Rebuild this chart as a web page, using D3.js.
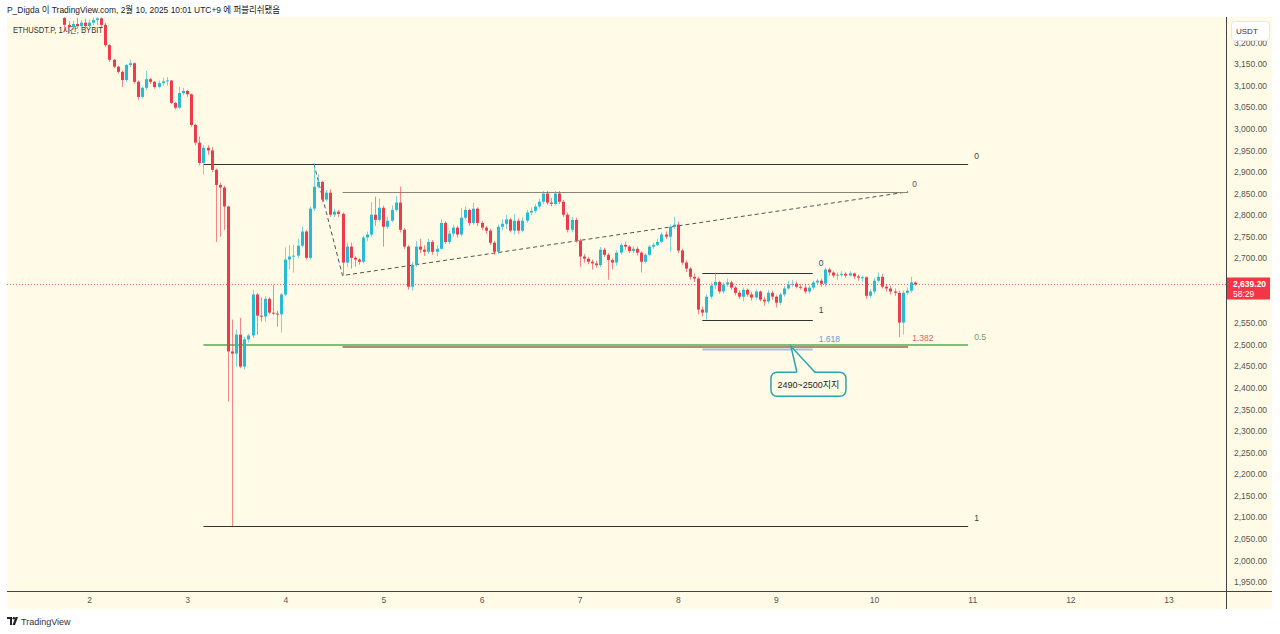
<!DOCTYPE html>
<html><head><meta charset="utf-8">
<script src="https://cdn.jsdelivr.net/npm/d3@7"></script>
<style>
html,body{margin:0;padding:0;background:#fff;}
svg{display:block;font-family:"Liberation Sans","Noto Sans CJK KR",sans-serif;}
</style></head><body>
<svg id="c" width="1280" height="634"></svg>
<script>
// ---------------- DATA ----------------
const symbolLabel = "ETHUSDT.P, 1시간, BYBIT";
const headerText = "P_Digda 이 TradingView.com, 2월 10, 2025 10:01 UTC+9 에 퍼블리쉬됐음";
const startTime = Date.UTC(2025, 1, 1, 18); // first hourly bar (UTC+9 wall clock)
const firstOpen = 3257;
const closes = [
3241,3236,3243,3238,3246,3238,3246,3252,3256,3241,
3194,3160,3144,3132,3113,3148,3152,3109,3074,3095,
3115,3109,3097,3106,3110,3112,3060,3049,3083,3088,
3080,3009,2968,2921,2956,2950,2905,2870,2864,2820,
2484,2479,2523,2449,2512,2521,2616,2567,2565,2606,
2574,2572,2570,2616,2697,2704,2706,2729,2762,2701,
2815,2866,2877,2836,2852,2801,2808,2803,2690,2727,
2701,2697,2692,2748,2755,2801,2789,2817,2773,2787,
2812,2829,2766,2727,2634,2685,2727,2720,2715,2738,
2715,2722,2782,2738,2757,2771,2755,2794,2812,2782,
2815,2782,2771,2764,2736,2715,2773,2780,2790,2764,
2787,2764,2787,2806,2810,2820,2831,2850,2829,2826,
2850,2831,2801,2766,2789,2741,2704,2699,2692,2688,
2684,2720,2708,2696,2690,2713,2731,2727,2717,2722,
2713,2692,2708,2727,2731,2738,2755,2750,2773,2778,
2718,2690,2676,2657,2653,2581,2574,2611,2637,2645,
2623,2639,2644,2632,2620,2611,2627,2616,2609,2623,
2604,2600,2620,2611,2597,2616,2630,2639,2641,2634,
2632,2623,2632,2644,2648,2641,2674,2667,2660,2662,
2664,2660,2665,2658,2655,2656,2613,2623,2648,2657,
2634,2630,2623,2620,2551,2620,2625,2644,2639.2];
const highs = [
3262,3250,3250,3257,3252,3255,3253,3258,3262,3258,
3245,3196,3162,3146,3135,3150,3160,3154,3112,3098,
3134,3118,3111,3112,3118,3120,3113,3062,3097,3095,
3090,3082,3012,2982,2962,2962,2958,2908,2875,2868,
2822,2558,2535,2562,2518,2525,2627,2620,2609,2612,
2610,2639,2578,2620,2725,2731,2731,2745,2773,2766,
2820,2919,2895,2880,2858,2860,2815,2812,2806,2736,
2736,2705,2700,2752,2762,2830,2843,2838,2822,2796,
2822,2845,2866,2770,2731,2692,2740,2745,2730,2745,
2742,2730,2790,2786,2764,2778,2775,2817,2820,2815,
2829,2818,2786,2775,2768,2740,2778,2790,2800,2794,
2803,2792,2795,2812,2818,2826,2838,2856,2856,2840,
2856,2856,2835,2806,2796,2794,2745,2710,2703,2697,
2694,2726,2724,2712,2700,2718,2736,2738,2730,2728,
2727,2716,2712,2731,2736,2745,2760,2762,2778,2796,
2785,2722,2695,2680,2665,2657,2588,2616,2644,2667,
2648,2644,2653,2648,2636,2625,2632,2630,2622,2628,
2625,2611,2627,2625,2614,2620,2636,2648,2650,2646,
2641,2641,2637,2648,2653,2653,2678,2678,2670,2667,
2670,2668,2670,2667,2662,2660,2658,2628,2655,2667,
2664,2640,2636,2630,2625,2625,2632,2657,2646];
const lows = [
3225,3222,3230,3232,3233,3230,3235,3240,3240,3236,
3190,3155,3140,3128,3097,3108,3143,3105,3067,3070,
3090,3104,3093,3094,3100,3100,3058,3045,3046,3078,
3074,3005,2962,2915,2894,2940,2900,2738,2750,2766,
2368,2079,2449,2445,2442,2505,2515,2523,2553,2553,
2570,2568,2542,2528,2612,2674,2667,2700,2725,2697,
2697,2810,2862,2830,2832,2796,2796,2796,2660,2680,
2676,2680,2685,2688,2740,2750,2775,2785,2727,2768,
2783,2808,2760,2722,2627,2625,2680,2712,2705,2710,
2708,2705,2720,2733,2733,2750,2748,2750,2790,2775,
2778,2775,2765,2757,2731,2708,2710,2765,2768,2760,
2755,2757,2760,2782,2800,2805,2815,2826,2824,2820,
2822,2826,2796,2760,2760,2736,2680,2690,2686,2674,
2678,2680,2703,2650,2674,2683,2708,2720,2712,2712,
2706,2667,2688,2704,2722,2728,2735,2745,2715,2768,
2712,2685,2668,2650,2645,2570,2565,2558,2606,2628,
2618,2618,2634,2627,2614,2606,2600,2611,2602,2604,
2600,2590,2595,2604,2586,2592,2611,2627,2634,2630,
2627,2618,2618,2627,2639,2634,2634,2660,2655,2650,
2657,2655,2658,2652,2648,2646,2606,2608,2618,2644,
2630,2623,2616,2613,2517,2523,2616,2620,2636];

const xTickDays = [2,3,4,5,6,7,8,9,10,11,12,13];
const yTicks = [1950,2000,2050,2100,2150,2200,2250,2300,2350,2400,2450,2500,2550,2600,2650,2700,2750,2800,2850,2900,2950,3000,3050,3100,3150,3200];
const lastPrice = 2639.20;
const countdown = "58:29";
const currency = "USDT";

// Fibonacci retracement (Feb 3 -> Feb 10)
const retrTimes = [Date.UTC(2025,1,3,4), Date.UTC(2025,1,10,23)];
const retrPrices = [2919, 2079];
const retrLevels = [0, 0.5, 1];
// Trend-based fib extension (A, B, C)
const extTimes = [Date.UTC(2025,1,4,7), Date.UTC(2025,1,4,14), Date.UTC(2025,1,10,8,20)];
const extPrices = [2919, 2660, 2854];
const extLevels = [0, 1.382];
// Range fib (Feb 8 - Feb 9)
const rangeTimes = [Date.UTC(2025,1,8,6), Date.UTC(2025,1,9,9)];
const rangePrices = [2667, 2558];
const rangeLevels = [0, 1, 1.618];
// Callout
const calloutTime = Date.UTC(2025,1,9,3,40);
const calloutPrice = 2496;
const calloutText = "2490~2500지지";

// ---------------- LAYOUT / STYLE ----------------
const svg = d3.select("#c");
const paneL = 7, paneR = 1226, paneT = 17, paneB = 591, outerR = 1272, outerB = 609;
const BG = "#fffbe6";
const UP = "#26bdd4", DOWN = "#f0394b";

const x = d3.scaleUtc()
  .domain([Date.UTC(2025,1,2), Date.UTC(2025,1,13)])
  .range([89, 1168.5]);
const y = d3.scaleLinear().domain([2000, 3150]).range([560.3, 64.1]);
const cy = v => Math.round(y(v)) + 0.5;

// background
svg.append("rect").attr("x", paneL).attr("y", paneT).attr("width", outerR - paneL).attr("height", outerB - paneT).attr("fill", BG);

// header
svg.append("text").attr("x", 7).attr("y", 13).attr("font-size", 9.5).attr("fill", "#222")
  .attr("textLength", 273).attr("lengthAdjust", "spacingAndGlyphs").text(headerText);

// clip
svg.append("clipPath").attr("id", "pane").append("rect")
  .attr("x", paneL).attr("y", paneT).attr("width", paneR - paneL).attr("height", paneB - paneT);

const pane = svg.append("g").attr("clip-path", "url(#pane)");

// symbol legend (drawn below candles)
pane.append("text").attr("x", 13).attr("y", 33).attr("font-size", 8.5).attr("fill", "#333")
  .attr("textLength", 90).attr("lengthAdjust", "spacingAndGlyphs").text(symbolLabel);

// current price dotted line
pane.append("line").attr("x1", paneL).attr("x2", paneR).attr("y1", cy(lastPrice)).attr("y2", cy(lastPrice))
  .attr("stroke", DOWN).attr("stroke-width", 1).attr("stroke-dasharray", "1,2").attr("opacity", 0.75);

// ---------- annotations ----------
const ann = pane.append("g");
function hline(t1, t2, yPix, color, w) {
  ann.append("line")
    .attr("x1", x(t1)).attr("x2", x(t2))
    .attr("y1", yPix).attr("y2", yPix)
    .attr("stroke", color).attr("stroke-width", w);
}
function label(xp, yp, txt, color) {
  ann.append("text").attr("x", xp).attr("y", yp).attr("font-size", 8.5).attr("fill", color).text(txt);
}

// trend-based extension
const A = extPrices[0], B = extPrices[1], C = extPrices[2];
ann.append("path")
  .attr("d", d3.line()([[x(extTimes[0]), y(A)], [x(extTimes[1]), y(B)], [x(extTimes[2]), y(C)]]))
  .attr("fill", "none").attr("stroke", "#555").attr("stroke-width", 1).attr("stroke-dasharray", "4,3");
const extColor = {0: "#8a857a", 1.382: "#b88a78"};
const extWidth = {0: 1, 1.382: 2};
const extLabelColor = {0: "#555", 1.382: "#e2606c"};
extLevels.forEach(l => {
  const p = C - l * (A - B);
  const yy = l === 0 ? cy(p) : Math.round(y(p)) + 1;
  hline(extTimes[1], extTimes[2], yy, extColor[l], extWidth[l]);
  label(x(extTimes[2]) + 4, y(p) - 5, String(l), extLabelColor[l]);
});

// fib retracement
const retrColor = {"0": "#333333", "0.5": "#7cc07a", "1": "#333333"};
const retrWidth = {"0": 1, "0.5": 2, "1": 1};
const retrLabelColor = {"0": "#444444", "0.5": "#6f9e68", "1": "#444444"};
retrLevels.forEach(l => {
  const p = retrPrices[0] + l * (retrPrices[1] - retrPrices[0]);
  const w = retrWidth[String(l)];
  hline(retrTimes[0], retrTimes[1], w > 1 ? Math.round(y(p)) : cy(p), retrColor[String(l)], w);
  label(x(retrTimes[1]) + 6, y(p) - 5, String(l), retrLabelColor[String(l)]);
});

// range fib
const rangeColor = {0: "#333", 1: "#333", 1.618: "#a9c0dc"};
const rangeWidth = {0: 1, 1: 1, 1.618: 2};
const rangeLabelColor = {0: "#444", 1: "#444", 1.618: "#5d9ccc"};
rangeLevels.forEach(l => {
  const p = rangePrices[0] + l * (rangePrices[1] - rangePrices[0]);
  const yy = rangeWidth[l] > 1 ? Math.round(y(p)) + 0.5 : cy(p);
  hline(rangeTimes[0], rangeTimes[1], yy, rangeColor[l], rangeWidth[l]);
  label(x(rangeTimes[1]) + 6, y(p) - 7, String(l), rangeLabelColor[l]);
});

// ---------- candles ----------
const candles = closes.map((c, i) => ({
  t: startTime + i * 3600e3,
  o: i === 0 ? firstOpen : closes[i - 1],
  h: highs[i], l: lows[i], c: c
}));
const cg = pane.append("g");
candles.forEach(d => {
  const xc = Math.round(x(d.t));
  const col = d.c >= d.o ? UP : DOWN;
  cg.append("line").attr("x1", xc + 0.5).attr("x2", xc + 0.5)
    .attr("y1", y(d.h)).attr("y2", y(d.l)).attr("stroke", col).attr("stroke-width", 1).attr("opacity", 0.6);
  const top = y(Math.max(d.o, d.c)), bot = y(Math.min(d.o, d.c));
  cg.append("rect").attr("x", xc - 1).attr("width", 3)
    .attr("y", top).attr("height", Math.max(1, bot - top)).attr("fill", col);
});

// ---------- callout ----------
const tx = x(calloutTime), ty = y(calloutPrice);
const bx = tx - 20, bw = 75, by = ty + 26, bh = 24;
const CO = "#2aa4b6";
svg.append("rect").attr("x", bx).attr("y", by).attr("width", bw).attr("height", bh).attr("rx", 6)
  .attr("fill", BG).attr("stroke", CO).attr("stroke-width", 1.5);
svg.append("path").attr("d", `M${tx + 6},${by + 1} L${tx},${ty} L${tx + 24},${by + 1} Z`).attr("fill", BG);
svg.append("path").attr("d", `M${tx + 6},${by} L${tx},${ty} L${tx + 24},${by}`)
  .attr("fill", "none").attr("stroke", CO).attr("stroke-width", 1.5);
svg.append("text").attr("x", bx + bw / 2).attr("y", by + bh / 2 + 3.5).attr("text-anchor", "middle")
  .attr("font-size", 9).attr("fill", "#222").text(calloutText);

// ---------- axes ----------
const ly = y(lastPrice);
const shownTicks = yTicks.filter(v => Math.abs(y(v) - (ly + 4)) > 16);
const yAxis = svg.append("g").attr("transform", `translate(${paneR},0)`)
  .call(d3.axisRight(y).tickValues(shownTicks).tickSize(0).tickPadding(8).tickFormat(d3.format(",.2f")));
yAxis.select(".domain").remove();
yAxis.selectAll("text").attr("font-size", 8.5).attr("fill", "#555").attr("font-family", "Liberation Sans, sans-serif");

const xAxis = svg.append("g").attr("transform", `translate(0,${paneB})`)
  .call(d3.axisBottom(x).tickValues(xTickDays.map(d => Date.UTC(2025, 1, d))).tickSize(0).tickPadding(6)
    .tickFormat(d3.utcFormat("%-d")));
xAxis.select(".domain").remove();
xAxis.selectAll("text").attr("font-size", 8.5).attr("fill", "#555").attr("font-family", "Liberation Sans, sans-serif");

// separators
svg.append("line").attr("x1", paneL).attr("x2", outerR).attr("y1", paneB + 0.5).attr("y2", paneB + 0.5).attr("stroke", "#444");
svg.append("line").attr("x1", paneR + 0.5).attr("x2", paneR + 0.5).attr("y1", paneT).attr("y2", outerB).attr("stroke", "#444");

// currency box
svg.append("rect").attr("x", 1231.5).attr("y", 21.5).attr("width", 38).attr("height", 19).attr("rx", 3)
  .attr("fill", "#fff").attr("stroke", "#e6e6e6");
svg.append("text").attr("x", 1236).attr("y", 34).attr("font-size", 8).attr("fill", "#333").text(currency);

// last price label
svg.append("rect").attr("x", 1227).attr("y", ly - 7).attr("width", 43).attr("height", 22).attr("fill", "#f23645");
svg.append("text").attr("x", 1233).attr("y", ly + 3).attr("font-size", 8.5).attr("font-weight", "bold").attr("fill", "#fff")
  .text(d3.format(",.2f")(lastPrice));
svg.append("text").attr("x", 1233).attr("y", ly + 13).attr("font-size", 8.5).attr("fill", "#fff").text(countdown);

// footer logo
const f = svg.append("g").attr("transform", "translate(7,617)");
f.append("path").attr("d", "M0,0 H5 V8 H3 V2 H0 Z").attr("fill", "#222");
f.append("circle").attr("cx", 6.8).attr("cy", 1.3).attr("r", 1.3).attr("fill", "#222");
f.append("path").attr("d", "M8.5,0 H11 L8,8 H5.5 Z").attr("fill", "#222");
svg.append("text").attr("x", 21).attr("y", 625).attr("font-size", 9).attr("fill", "#333").text("TradingView");
</script>
</body></html>
